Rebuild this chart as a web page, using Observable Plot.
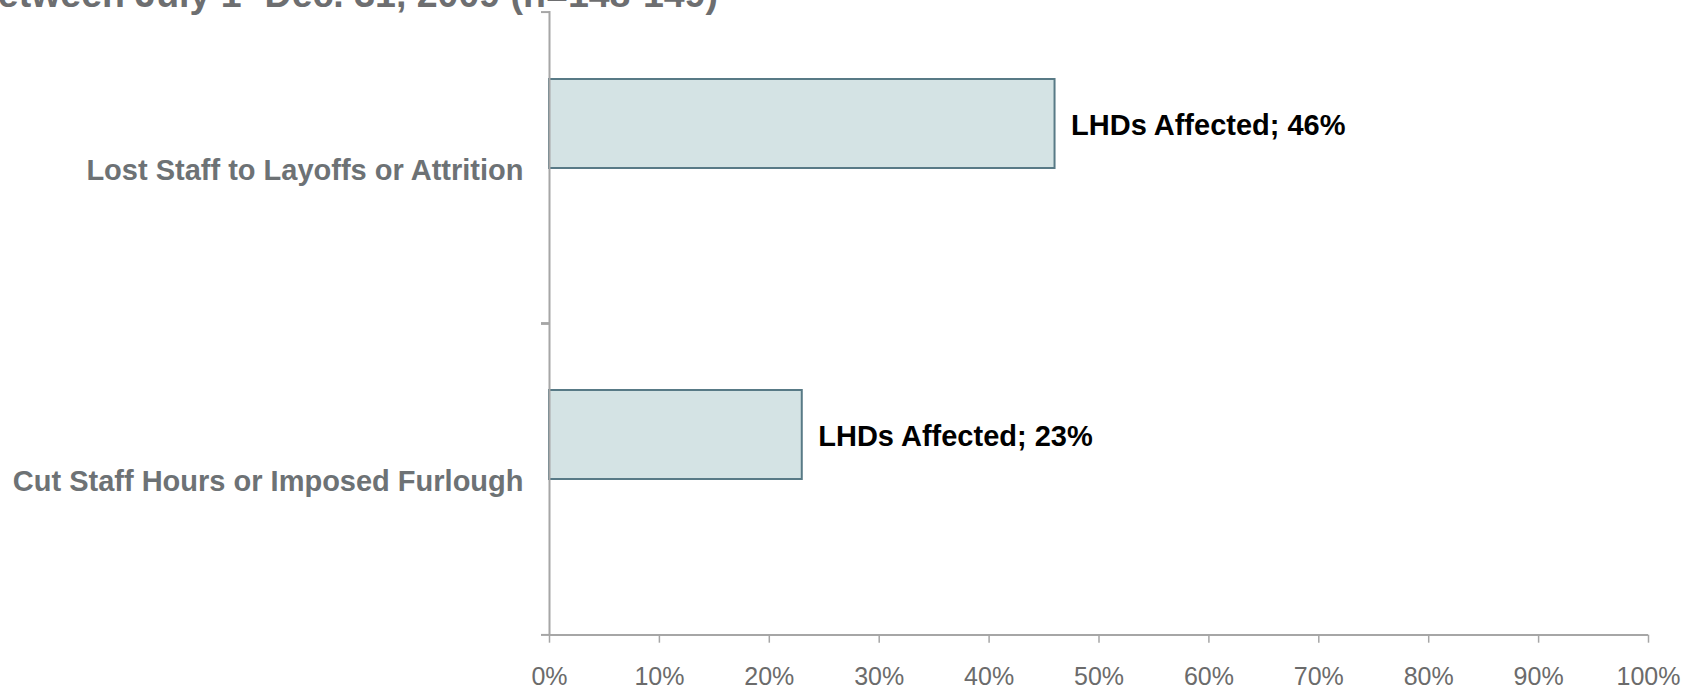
<!DOCTYPE html>
<html>
<head>
<meta charset="utf-8">
<script src="https://cdn.jsdelivr.net/npm/d3@7"></script>
<script src="https://cdn.jsdelivr.net/npm/@observablehq/plot@0.6"></script>
<style>
  html, body { margin: 0; padding: 0; background: #fff; }
  body { width: 1698px; height: 692px; position: relative; overflow: hidden; font-family: "Liberation Sans", Arial, sans-serif; }
  #title { position: absolute; right: 980px; top: -24px; font-size: 37.5px; line-height: 37.5px; font-weight: bold; color: #6d6e70; white-space: nowrap; z-index: 2; }
  #chart { position: absolute; left: 0; top: 0; z-index: 1; }
</style>
</head>
<body>
<div id="title">between July 1- Dec. 31, 2009 (n=148-149)</div>
<div id="chart"></div>
<script>
const categories = ["Lost Staff to Layoffs or Attrition", "Cut Staff Hours or Imposed Furlough"];
const values = [0.46, 0.23];
const seriesName = "LHDs Affected";
const xTicks = [0, 0.1, 0.2, 0.3, 0.4, 0.5, 0.6, 0.7, 0.8, 0.9, 1.0];

const data = categories.map((c, i) => ({category: c, value: values[i]}));

const W = 1698, H = 692, mt = 11, mb = 57.3, ml = 549, mr = 50;
const bw = (H - mt - mb) / categories.length;
const axisGray = "#a6a6a6";

const chart = Plot.plot({
  width: W,
  height: H,
  marginTop: mt,
  marginBottom: mb,
  marginLeft: ml,
  marginRight: mr,
  style: {fontFamily: "'Liberation Sans', Arial, sans-serif", background: "transparent"},
  x: {domain: [0, 1], axis: null, label: null},
  y: {domain: categories, type: "band", padding: 0, axis: null, label: null},
  marks: [
    Plot.barX(data, {
      x: "value", y: "category",
      fill: "#d4e3e4", stroke: "#587a86", strokeWidth: 2,
      insetTop: 67, insetBottom: 155
    }),
    Plot.text(data, {
      x: "value", y: "category",
      text: d => `${seriesName}; ${Math.round(d.value * 100)}%`,
      textAnchor: "start", dx: 16, dy: -42,
      fontSize: 29, fontWeight: "bold", fill: "black"
    }),
    // y axis line
    Plot.ruleX([0], {stroke: axisGray, strokeWidth: 2}),
    // x axis line
    Plot.ruleY([categories[categories.length - 1]], {dy: bw / 2, x1: 0, x2: 1, stroke: axisGray, strokeWidth: 2}),
    // y-axis boundary ticks
    Plot.axisY({tickFormat: null, tickSize: 8, dy: -bw / 2, stroke: axisGray, strokeWidth: 2, label: null}),
    Plot.axisY({tickFormat: null, tickSize: 8, dy: bw / 2, stroke: axisGray, strokeWidth: 2, label: null}),
    // category labels
    Plot.axisY({tickSize: 0, tickPadding: 26, dy: 3, fontSize: 29, fontWeight: "bold", fill: "#6d7275", label: null}),
    // x axis ticks & labels
    Plot.axisX({
      ticks: xTicks, tickSize: 8, tickPadding: 24, label: null,
      tickFormat: d => `${Math.round(d * 100)}%`,
      fontSize: 25, fill: "#6b6b6b", stroke: axisGray, strokeWidth: 1.5
    })
  ]
});
document.getElementById("chart").appendChild(chart);
</script>
</body>
</html>
